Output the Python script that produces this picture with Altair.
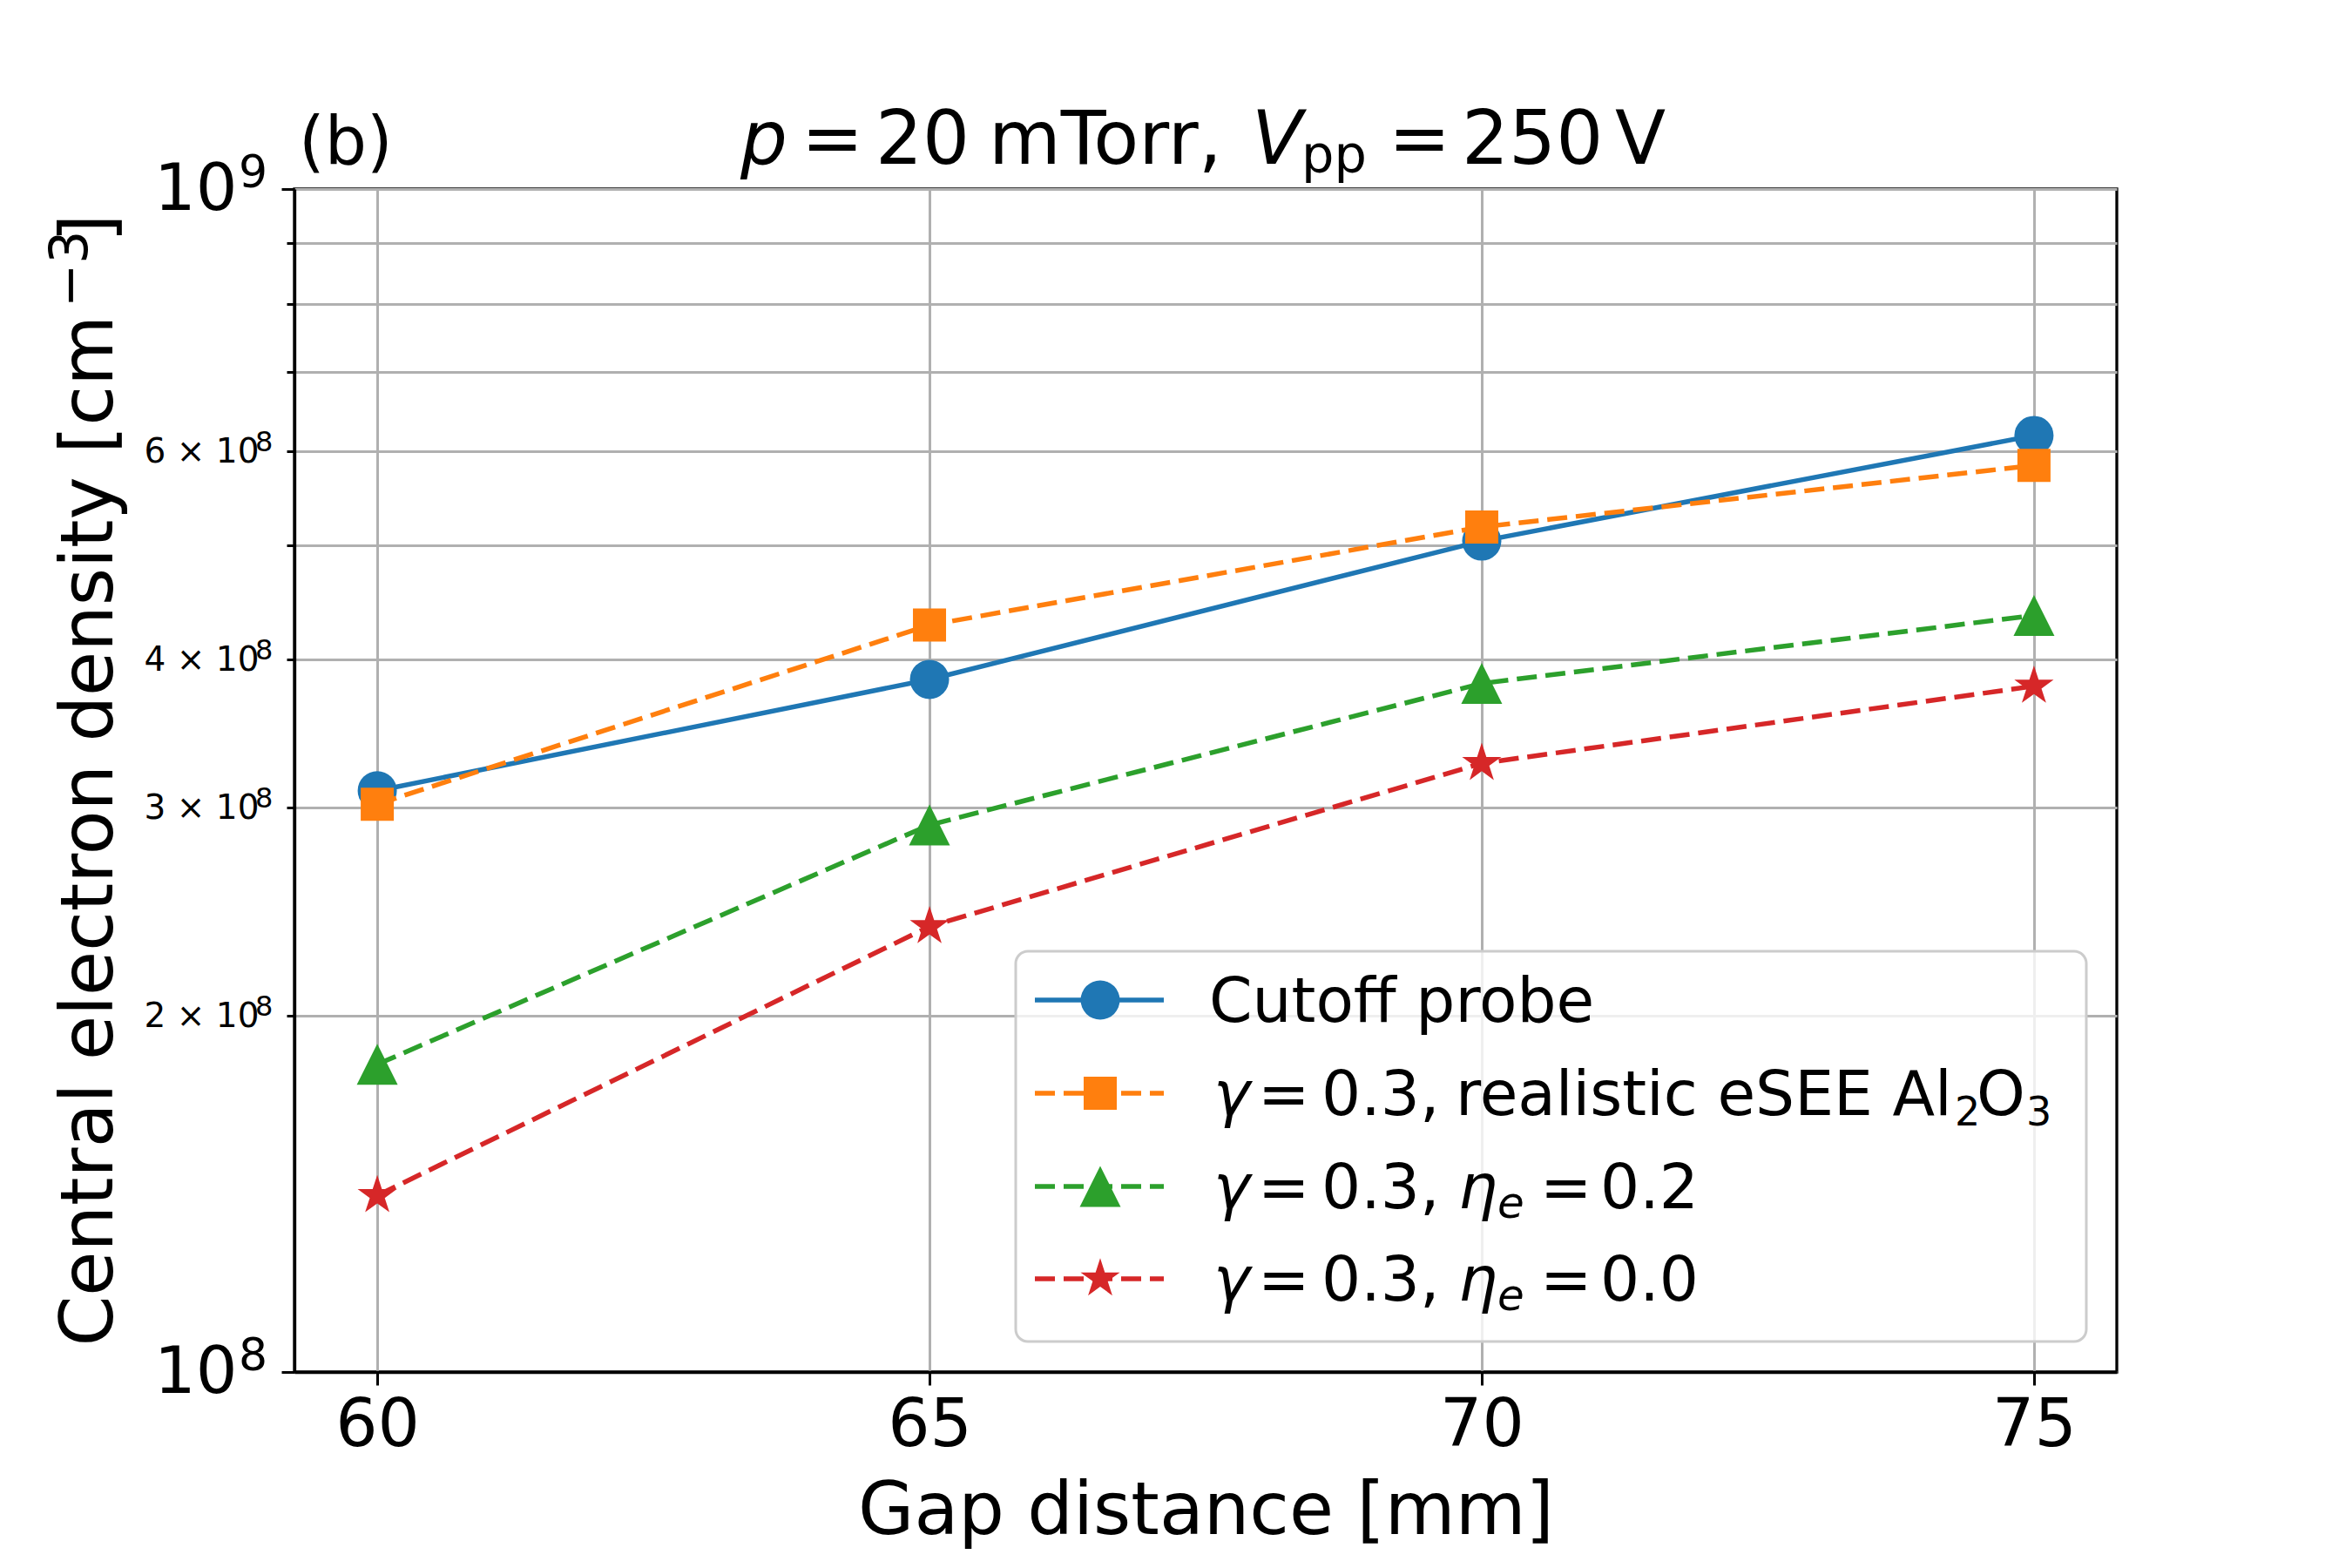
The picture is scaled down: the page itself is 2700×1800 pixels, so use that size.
import math
import altair as alt
import pandas as pd

# ---------------- data ----------------
gap_mm = [60, 65, 70, 75]
cutoff_probe = [3.10e8, 3.85e8, 5.04e8, 6.19e8]
esee_al2o3 = [3.02e8, 4.28e8, 5.18e8, 5.84e8]
eta_02 = [1.82e8, 2.90e8, 3.82e8, 4.36e8]
eta_00 = [1.41e8, 2.38e8, 3.27e8, 3.80e8]

series_names = ["Cutoff probe", "γ = 0.3, realistic eSEE Al₂O₃",
                "γ = 0.3, ηₑ = 0.2", "γ = 0.3, ηₑ = 0.0"]
series_values = [cutoff_probe, esee_al2o3, eta_02, eta_00]

x_ticks = [60, 65, 70, 75]
y_ticks = [1e8, 2e8, 3e8, 4e8, 5e8, 6e8, 7e8, 8e8, 9e8, 1e9]
y_tick_base = ["10", "2 × 10", "3 × 10", "4 × 10", "", "6 × 10", "", "", "", "10"]
y_tick_power = ["8", "8", "8", "8", "", "8", "", "", "", "9"]
y_tick_major = [True, False, False, False, False, False, False, False, False, True]

x_title = "Gap distance [mm]"
# y title fragments: main text, superscript, closing bracket
y_title_fragments = ["Central electron density [cm", "−3", "]"]
panel_label = "(b)"
# title fragments: (text, style)  n = normal, i = italic, s = subscript
title_fragments = [("p", "i"), ("=", "n"), ("20", "n"), ("mTorr,", "n"),
                   ("V", "i"), ("pp", "s"), ("=", "n"), ("250", "n"), ("V", "n")]
legend_fragments = [
    [("Cutoff probe", "n")],
    [("γ", "i"), ("=", "n"), ("0.3,", "n"), ("realistic eSEE Al", "n"),
     ("2", "s"), ("O", "n"), ("3", "s")],
    [("γ", "i"), ("=", "n"), ("0.3,", "n"), ("η", "i"), ("e", "is"), ("=", "n"), ("0.2", "n")],
    [("γ", "i"), ("=", "n"), ("0.3,", "n"), ("η", "i"), ("e", "is"), ("=", "n"), ("0.0", "n")],
]

# ---------------- styles / layout ----------------
colors = ["#1f77b4", "#ff7f0e", "#2ca02c", "#d62728"]
dashes = [None, [23, 10], [23, 10], [23, 10]]


def star_path(inner=0.381966):
    pts = []
    for k in range(10):
        r = 1.0 if k % 2 == 0 else inner
        a = math.pi / 2 + k * math.pi / 5
        pts.append((r * math.cos(a), -r * math.sin(a)))
    return "M" + "L".join(f"{px:.4f},{py:.4f}" for px, py in pts) + "Z"


shapes = ["circle", "square", "M0,-1L-1,1L1,1Z", star_path()]
sizes = [2025, 1444, 2209, 2247]

W, H = 2092, 1358
FONT = "DejaVu Sans"
AXIS_TITLE_SIZE = 83

title_x = [512, 582, 667, 797, 1099, 1156, 1256, 1340, 1516]
title_base = -29
legend_x = [
    [1050],
    [1055, 1106, 1179, 1333, 1906, 1931, 1988],
    [1055, 1106, 1179, 1336, 1381, 1430, 1499],
    [1055, 1106, 1179, 1336, 1381, 1430, 1499],
]
legend_row_y = [931, 1038, 1145, 1251]

# ---------------- base tables ----------------
rows = []
for name, vals in zip(series_names, series_values):
    for g, v in zip(gap_mm, vals):
        rows.append({"gap": g, "density": v, "series": name})
df = pd.DataFrame(rows)
dummy = pd.DataFrame({"k": [0]})
sup_df = pd.DataFrame({"density": y_ticks, "sup": y_tick_power, "major": y_tick_major})
sup_df = sup_df[sup_df["sup"] != ""]

label_expr = ""
for v, lab in zip(y_ticks, y_tick_base):
    label_expr += f"datum.value == {int(v)} ? '{lab}' : "
label_expr += "''"
major_test = "datum.value < 150000000 || datum.value > 950000000"

x_axis = alt.Axis(
    values=x_ticks, format="d", title=x_title,
    labelFont=FONT, labelFontSize=76, labelColor="black", labelPadding=9,
    tickSize=15, tickWidth=3, tickColor="black",
    grid=True, gridColor="#b0b0b0", gridWidth=3,
    domain=True, domainColor="black", domainWidth=3.3,
    titleFont=FONT, titleFontSize=AXIS_TITLE_SIZE, titleFontWeight="normal", titleColor="black",
    titleX=W / 2, titleY=185, titleAlign="center", titleBaseline="alphabetic",
    labelOverlap=False, labelFlush=False,
)
y_axis = alt.Axis(
    values=y_ticks, labelExpr=label_expr, title=None,
    labelFont=FONT, labelColor="black", labelAlign="right",
    labelFontSize={"condition": {"test": major_test, "value": 75}, "value": 39},
    tickSize={"condition": {"test": major_test, "value": 15}, "value": 9},
    labelPadding={"condition": {"test": major_test, "value": 51}, "value": 32},
    tickWidth=3, tickColor="black",
    grid=True, gridColor="#b0b0b0", gridWidth=3,
    domain=True, domainColor="black", domainWidth=3.3,
    labelOverlap=False, labelFlush=False, labelBound=False,
)
x_scale = alt.Scale(domain=[59.25, 75.75], nice=False, zero=False)
y_scale = alt.Scale(type="log", domain=[1e8, 1e9], nice=False)

X = alt.X("gap:Q", scale=x_scale, axis=x_axis)
Y = alt.Y("density:Q", scale=y_scale, axis=y_axis)

layers = []
for i, name in enumerate(series_names):
    base = alt.Chart(df).transform_filter(alt.datum.series == name)
    line_kw = dict(color=colors[i], strokeWidth=5.5)
    if dashes[i]:
        line_kw["strokeDash"] = dashes[i]
    layers.append(base.mark_line(**line_kw).encode(x=X, y=Y))
    layers.append(base.mark_point(shape=shapes[i], filled=True, size=sizes[i],
                                  color=colors[i], opacity=1, strokeWidth=0)
                  .encode(x=X, y=Y))

# superscript exponents of the y tick labels (placed via the y scale)
layers.append(alt.Chart(sup_df).transform_filter(alt.datum.major).mark_text(
    font=FONT, fontSize=52, align="left", baseline="alphabetic", dy=-2, color="black",
).encode(x=alt.value(-64), y=Y, text="sup:N"))
layers.append(alt.Chart(sup_df).transform_filter(~alt.datum.major).mark_text(
    font=FONT, fontSize=32, align="left", baseline="alphabetic", dy=0, color="black",
).encode(x=alt.value(-45), y=Y, text="sup:N"))


def text_piece(txt, x, y, size, style="normal", align="left", angle=0):
    kw = dict(text=txt, font=FONT, fontSize=size, fontStyle=style, align=align,
              baseline="alphabetic", color="black")
    if angle:
        kw["angle"] = angle
    return alt.Chart(dummy).mark_text(**kw).encode(x=alt.value(x), y=alt.value(y))


# y axis title (rotated) in three fragments
layers.append(text_piece(y_title_fragments[0], -209, 145, AXIS_TITLE_SIZE, align="right", angle=270))
layers.append(text_piece(y_title_fragments[1], -238, 136, 60, align="left", angle=270))
layers.append(text_piece(y_title_fragments[2], -209, 61, AXIS_TITLE_SIZE, align="left", angle=270))

# legend box
layers.append(alt.Chart(dummy).mark_rect(
    fill="white", fillOpacity=0.8, stroke="#cccccc", strokeWidth=3, cornerRadius=14,
).encode(x=alt.value(828), x2=alt.value(2057), y=alt.value(875), y2=alt.value(1323)))

for i in range(len(series_names)):
    yc = legend_row_y[i]
    rule_kw = dict(color=colors[i], strokeWidth=5.5)
    if dashes[i]:
        rule_kw["strokeDash"] = dashes[i]
    layers.append(alt.Chart(dummy).mark_rule(**rule_kw).encode(
        x=alt.value(850), x2=alt.value(998), y=alt.value(yc)))
    layers.append(alt.Chart(dummy).mark_point(
        shape=shapes[i], filled=True, size=sizes[i], color=colors[i], opacity=1,
        strokeWidth=0).encode(x=alt.value(925), y=alt.value(yc)))
    for (txt, st), px in zip(legend_fragments[i], legend_x[i]):
        if st == "n":
            layers.append(text_piece(txt, px, yc + 25, 71))
        elif st == "i":
            layers.append(text_piece(txt, px, yc + 25, 71, "italic"))
        elif st == "s":
            layers.append(text_piece(txt, px, yc + 37, 46))
        else:
            layers.append(text_piece(txt, px, yc + 36, 50, "italic"))

# title fragments
for (txt, st), px in zip(title_fragments, title_x):
    if st == "n":
        layers.append(text_piece(txt, px, title_base, 85))
    elif st == "i":
        layers.append(text_piece(txt, px, title_base, 85, "italic"))
    else:
        layers.append(text_piece(txt, px, title_base + 10, 59))

layers.append(text_piece(panel_label, 5, title_base, 76))

chart = alt.layer(*layers).properties(
    width=W, height=H,
    autosize=alt.AutoSizeParams(type="none"),
    padding={"left": 330, "top": 209, "right": 262, "bottom": 217},
    background="white",
).configure_view(stroke="black", strokeWidth=3.3)

chart.save("out.html", embed_options={"renderer": "svg", "actions": False})
